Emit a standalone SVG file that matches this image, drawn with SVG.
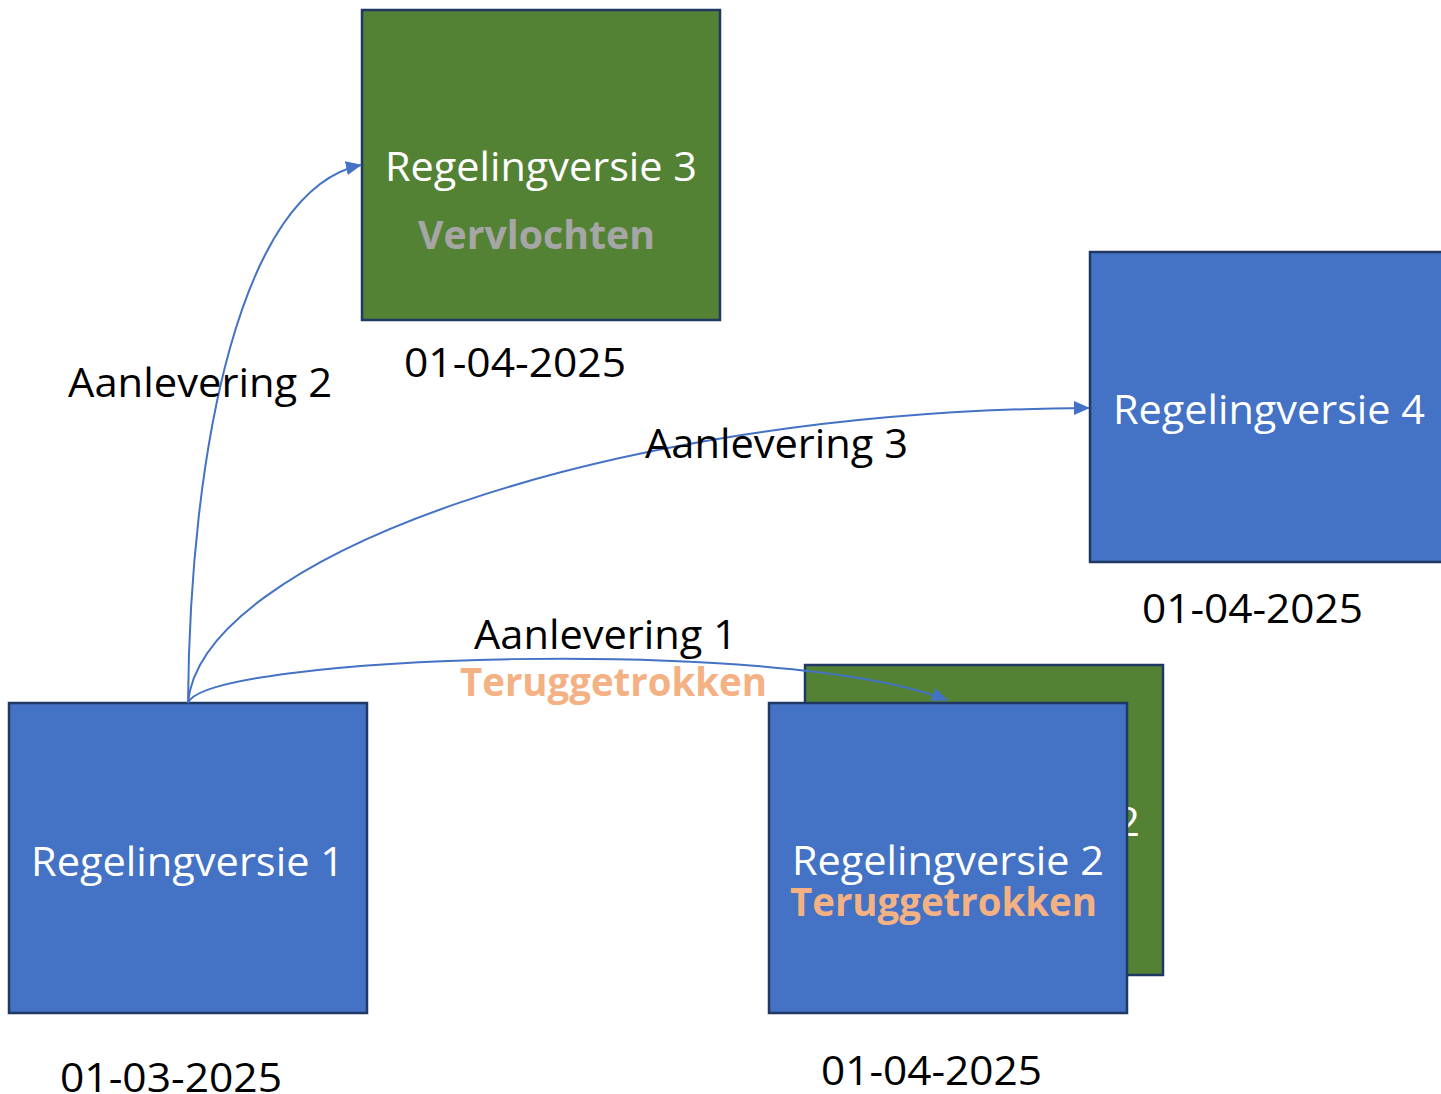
<svg xmlns="http://www.w3.org/2000/svg" width="1441" height="1094" viewBox="0 0 1441 1094">
<style>
text{font-family:"Open Sans","Noto Sans","Liberation Sans",sans-serif;}
.blue{fill:#4472C4;stroke:#1F3864;stroke-width:2.5;}
.green{fill:#548235;stroke:#1F3864;stroke-width:2.5;}
.nt{fill:#FFFFFF;font-size:40px;}
.lbl{fill:#000000;font-size:40px;}
.ret{fill:#F4B183;font-size:40px;font-weight:bold;}
.verv{fill:#A6A6A6;font-size:40px;font-weight:bold;}
.conn{fill:none;stroke:#4472C4;stroke-width:2;}
</style>
<defs>
<marker id="ah" markerUnits="userSpaceOnUse" markerWidth="16" markerHeight="16" refX="15" refY="8" orient="auto">
<path d="M0,1 L16,8 L0,15 Z" fill="#4472C4"/>
</marker>
</defs>
<rect width="1441" height="1094" fill="#FFFFFF"/>
<g id="node-rv3">
<rect class="green" x="362" y="10" width="358" height="310"/>
<text class="nt" x="385" y="181" textLength="312" lengthAdjust="spacingAndGlyphs">Regelingversie 3</text>
<text class="verv" x="418" y="249" textLength="237" lengthAdjust="spacingAndGlyphs">Vervlochten</text>
</g>
<text class="lbl" x="404" y="377" textLength="222" lengthAdjust="spacingAndGlyphs">01-04-2025</text>
<g id="node-rv4">
<rect class="blue" x="1090" y="252" width="358" height="310"/>
<text class="nt" x="1113" y="424" textLength="312" lengthAdjust="spacingAndGlyphs">Regelingversie 4</text>
</g>
<text class="lbl" x="1142" y="623" textLength="221" lengthAdjust="spacingAndGlyphs">01-04-2025</text>
<g id="node-rv1">
<rect class="blue" x="9" y="703" width="358" height="310"/>
<text class="nt" x="31" y="876" textLength="313" lengthAdjust="spacingAndGlyphs">Regelingversie 1</text>
</g>
<text class="lbl" x="60" y="1092" textLength="222" lengthAdjust="spacingAndGlyphs">01-03-2025</text>
<g id="node-rv2-back">
<rect class="green" x="805" y="665" width="358" height="310"/>
<text class="nt" x="828" y="836" textLength="312" lengthAdjust="spacingAndGlyphs">Regelingversie 2</text>
</g>
<g id="node-rv2">
<rect class="blue" x="769" y="703" width="358" height="310"/>
<text class="nt" x="792" y="875" textLength="312" lengthAdjust="spacingAndGlyphs">Regelingversie 2</text>
<text class="ret" x="790" y="916" textLength="307" lengthAdjust="spacingAndGlyphs">Teruggetrokken</text>
</g>
<text class="lbl" x="821" y="1085" textLength="221" lengthAdjust="spacingAndGlyphs">01-04-2025</text>
<g id="connectors">
<path class="conn" d="M188,703 C190,450 240,190 361,165" marker-end="url(#ah)"/>
<path class="conn" d="M188,703 C200,560 600,410 1089,408" marker-end="url(#ah)"/>
<path class="conn" d="M188,703 C205,655 780,635 947,700" marker-end="url(#ah)"/>
</g>
<g id="labels">
<text class="lbl" x="68" y="397" textLength="264" lengthAdjust="spacingAndGlyphs">Aanlevering 2</text>
<text class="lbl" x="645" y="458" textLength="263" lengthAdjust="spacingAndGlyphs">Aanlevering 3</text>
<text class="lbl" x="474" y="649" textLength="263" lengthAdjust="spacingAndGlyphs">Aanlevering 1</text>
<text class="ret" x="460" y="696" textLength="307" lengthAdjust="spacingAndGlyphs">Teruggetrokken</text>
</g>
</svg>
